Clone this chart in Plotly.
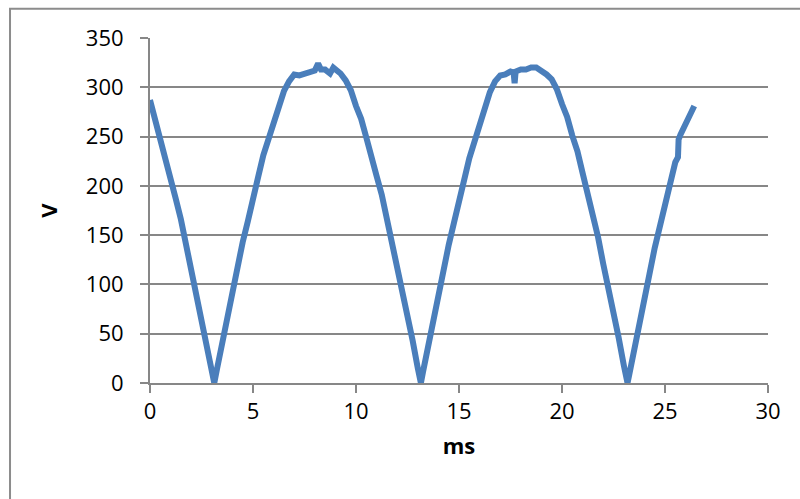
import plotly.graph_objects as go

# time (ms) and voltage (V)
time_ms = [0.0, 0.25, 0.5, 0.75, 1.0, 1.25, 1.5, 1.75, 2.0, 2.25, 2.5, 2.75, 3.0, 3.12,
           3.25, 3.5, 3.75, 4.0, 4.25, 4.5, 4.75, 5.0, 5.25, 5.5, 5.75, 6.0, 6.25, 6.5, 6.75, 7.0,
           7.25, 7.5, 7.75, 8.0, 8.16, 8.3, 8.5, 8.74, 8.9, 9.05, 9.25,
           9.5, 9.75, 10.0, 10.25, 10.5, 10.75, 11.0, 11.25, 11.5, 11.75, 12.0, 12.25, 12.5, 12.75, 13.0, 13.15,
           13.25, 13.5, 13.75, 14.0, 14.25, 14.5, 14.75, 15.0, 15.25, 15.5, 15.75, 16.0, 16.25, 16.5, 16.75, 17.0,
           17.25, 17.5, 17.65, 17.7, 17.75, 18.0, 18.25, 18.5, 18.75, 19.0, 19.25,
           19.5, 19.75, 20.0, 20.25, 20.5, 20.75, 21.0, 21.25, 21.5, 21.75, 22.0, 22.25, 22.5, 22.75, 23.0, 23.18,
           23.25, 23.5, 23.75, 24.0, 24.25, 24.5, 24.75, 25.0, 25.25, 25.5, 25.63, 25.66, 25.75, 26.0, 26.25, 26.42]
volts = [287, 268, 249, 229, 210, 187, 166, 140, 118, 90, 67, 38, 13, 0,
         14, 41, 65, 93, 116, 143, 164, 189, 209, 231, 247, 267, 280, 296, 306, 313,
         312, 314, 316, 317, 324, 318, 318, 314, 320, 318, 314,
         307, 297, 281, 268, 249, 232, 210, 191, 167, 145, 118, 95, 68, 43, 15, 0,
         11, 38, 62, 90, 114, 140, 162, 187, 206, 228, 245, 265, 279, 295, 306, 312,
         313, 316, 315, 304, 316, 318, 318, 320, 320, 317, 313,
         308, 298, 283, 270, 251, 235, 213, 193, 169, 148, 121, 98, 70, 46, 18, 0,
         7, 35, 59, 87, 111, 137, 159, 184, 204, 224, 229, 247, 252, 264, 275, 281]

x_ticks = [0, 5, 10, 15, 20, 25, 30]
y_ticks = [0, 50, 100, 150, 200, 250, 300, 350]

FONT = "Open Sans"
GRID = "#878787"

fig = go.Figure()
fig.add_trace(go.Scatter(
    x=time_ms, y=volts, mode="lines",
    line=dict(color="#4a7ebb", width=6),
    hoverinfo="skip", showlegend=False,
))

fig.update_layout(
    width=800, height=499,
    margin=dict(l=150, r=32, t=38, b=116),
    paper_bgcolor="white", plot_bgcolor="white",
    font=dict(family=FONT, size=22, color="black"),
    xaxis=dict(
        range=[0, 30], tickvals=x_ticks, ticktext=[str(v) for v in x_ticks],
        showgrid=False, zeroline=False,
        showline=True, linecolor=GRID, linewidth=2,
        ticks="outside", ticklen=8, tickwidth=2, tickcolor=GRID,
        tickfont=dict(family=FONT, size=22),
        title=dict(text="<b>ms</b>", font=dict(family=FONT, size=22), standoff=14),
    ),
    yaxis=dict(
        range=[0, 350], tickvals=y_ticks, ticktext=[str(v) for v in y_ticks],
        showgrid=True, gridcolor=GRID, gridwidth=2, zeroline=False,
        showline=True, linecolor=GRID, linewidth=2,
        ticks="outside", ticklen=8, tickwidth=2, tickcolor=GRID,
        tickfont=dict(family=FONT, size=22),
        ticklabelstandoff=12,
        title=dict(text="<b>V</b>", font=dict(family=FONT, size=22), standoff=22),
    ),
    shapes=[dict(
        type="rect", xref="paper", yref="paper",
        x0=-0.2265, x1=1.2, y0=-0.6, y1=1.085,
        line=dict(color="#8c8c8c", width=2), fillcolor="rgba(0,0,0,0)", layer="below",
    )],
)

fig.write_html("out.html")
